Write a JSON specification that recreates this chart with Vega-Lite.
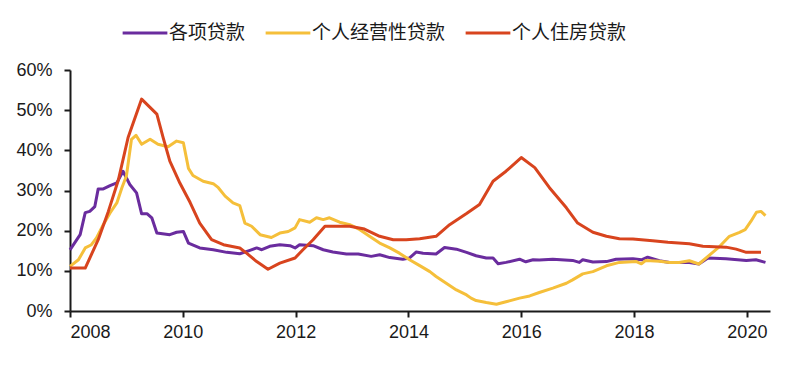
{
  "$schema": "https://vega.github.io/schema/vega-lite/v6.json",
  "autosize": {"type": "none"},
  "width": 700,
  "height": 241,
  "padding": {"left": 70, "top": 70, "right": 30, "bottom": 60},
  "background": "white",
  "config": {"view": {"stroke": null}, "font": "Liberation Sans"},
  "data": {"values": [
    {"s":"各项贷款","t":2008.00,"v":15.2},{"s":"各项贷款","t":2008.18,"v":19.0},{"s":"各项贷款","t":2008.27,"v":24.5},{"s":"各项贷款","t":2008.35,"v":24.8},{"s":"各项贷款","t":2008.44,"v":26.0},{"s":"各项贷款","t":2008.50,"v":30.4},{"s":"各项贷款","t":2008.59,"v":30.4},{"s":"各项贷款","t":2008.71,"v":31.2},{"s":"各项贷款","t":2008.83,"v":31.9},{"s":"各项贷款","t":2008.94,"v":34.8},{"s":"各项贷款","t":2009.06,"v":31.5},{"s":"各项贷款","t":2009.18,"v":29.4},{"s":"各项贷款","t":2009.27,"v":24.2},{"s":"各项贷款","t":2009.37,"v":24.2},{"s":"各项贷款","t":2009.45,"v":23.2},{"s":"各项贷款","t":2009.54,"v":19.4},{"s":"各项贷款","t":2009.77,"v":19.0},{"s":"各项贷款","t":2009.89,"v":19.6},{"s":"各项贷款","t":2010.01,"v":19.8},{"s":"各项贷款","t":2010.10,"v":16.9},{"s":"各项贷款","t":2010.30,"v":15.7},{"s":"各项贷款","t":2010.54,"v":15.25},{"s":"各项贷款","t":2010.78,"v":14.6},{"s":"各项贷款","t":2011.01,"v":14.25},{"s":"各项贷款","t":2011.19,"v":15.1},{"s":"各项贷款","t":2011.31,"v":15.7},{"s":"各项贷款","t":2011.40,"v":15.25},{"s":"各项贷款","t":2011.54,"v":16.1},{"s":"各项贷款","t":2011.72,"v":16.5},{"s":"各项贷款","t":2011.90,"v":16.25},{"s":"各项贷款","t":2011.99,"v":15.7},{"s":"各项贷款","t":2012.07,"v":16.5},{"s":"各项贷款","t":2012.31,"v":16.25},{"s":"各项贷款","t":2012.49,"v":15.25},{"s":"各项贷款","t":2012.66,"v":14.7},{"s":"各项贷款","t":2012.90,"v":14.2},{"s":"各项贷款","t":2013.11,"v":14.2},{"s":"各项贷款","t":2013.34,"v":13.6},{"s":"各项贷款","t":2013.49,"v":14.0},{"s":"各项贷款","t":2013.67,"v":13.3},{"s":"各项贷款","t":2013.90,"v":12.9},{"s":"各项贷款","t":2014.02,"v":13.2},{"s":"各项贷款","t":2014.14,"v":14.7},{"s":"各项贷款","t":2014.26,"v":14.4},{"s":"各项贷款","t":2014.49,"v":14.2},{"s":"各项贷款","t":2014.64,"v":15.8},{"s":"各项贷款","t":2014.85,"v":15.4},{"s":"各项贷款","t":2015.03,"v":14.6},{"s":"各项贷款","t":2015.20,"v":13.75},{"s":"各项贷款","t":2015.38,"v":13.2},{"s":"各项贷款","t":2015.50,"v":13.2},{"s":"各项贷款","t":2015.59,"v":11.75},{"s":"各项贷款","t":2015.73,"v":12.1},{"s":"各项贷款","t":2015.97,"v":12.9},{"s":"各项贷款","t":2016.08,"v":12.25},{"s":"各项贷款","t":2016.21,"v":12.75},{"s":"各项贷款","t":2016.32,"v":12.7},{"s":"各项贷款","t":2016.56,"v":12.9},{"s":"各项贷款","t":2016.91,"v":12.6},{"s":"各项贷款","t":2017.03,"v":12.1},{"s":"各项贷款","t":2017.09,"v":12.75},{"s":"各项贷款","t":2017.27,"v":12.2},{"s":"各项贷款","t":2017.51,"v":12.3},{"s":"各项贷款","t":2017.68,"v":12.9},{"s":"各项贷款","t":2017.98,"v":13.0},{"s":"各项贷款","t":2018.13,"v":12.75},{"s":"各项贷款","t":2018.24,"v":13.4},{"s":"各项贷款","t":2018.45,"v":12.5},{"s":"各项贷款","t":2018.63,"v":12.1},{"s":"各项贷款","t":2018.98,"v":12.1},{"s":"各项贷款","t":2019.15,"v":11.7},{"s":"各项贷款","t":2019.31,"v":13.2},{"s":"各项贷款","t":2019.63,"v":13.0},{"s":"各项贷款","t":2019.99,"v":12.6},{"s":"各项贷款","t":2020.16,"v":12.75},{"s":"各项贷款","t":2020.33,"v":12.1},
    {"s":"个人经营性贷款","t":2008.00,"v":11.1},{"s":"个人经营性贷款","t":2008.15,"v":12.75},{"s":"个人经营性贷款","t":2008.27,"v":15.7},{"s":"个人经营性贷款","t":2008.38,"v":16.5},{"s":"个人经营性贷款","t":2008.47,"v":18.2},{"s":"个人经营性贷款","t":2008.59,"v":21.5},{"s":"个人经营性贷款","t":2008.71,"v":24.4},{"s":"个人经营性贷款","t":2008.83,"v":26.9},{"s":"个人经营性贷款","t":2008.92,"v":30.7},{"s":"个人经营性贷款","t":2009.00,"v":33.6},{"s":"个人经营性贷款","t":2009.09,"v":42.75},{"s":"个人经营性贷款","t":2009.17,"v":43.75},{"s":"个人经营性贷款","t":2009.27,"v":41.5},{"s":"个人经营性贷款","t":2009.42,"v":42.75},{"s":"个人经营性贷款","t":2009.56,"v":41.5},{"s":"个人经营性贷款","t":2009.74,"v":40.9},{"s":"个人经营性贷款","t":2009.89,"v":42.3},{"s":"个人经营性贷款","t":2010.01,"v":41.9},{"s":"个人经营性贷款","t":2010.10,"v":35.5},{"s":"个人经营性贷款","t":2010.18,"v":33.75},{"s":"个人经营性贷款","t":2010.36,"v":32.3},{"s":"个人经营性贷款","t":2010.54,"v":31.7},{"s":"个人经营性贷款","t":2010.63,"v":30.7},{"s":"个人经营性贷款","t":2010.75,"v":28.6},{"s":"个人经营性贷款","t":2010.89,"v":26.9},{"s":"个人经营性贷款","t":2011.01,"v":26.25},{"s":"个人经营性贷款","t":2011.10,"v":21.9},{"s":"个人经营性贷款","t":2011.22,"v":21.1},{"s":"个人经营性贷款","t":2011.37,"v":19.0},{"s":"个人经营性贷款","t":2011.57,"v":18.3},{"s":"个人经营性贷款","t":2011.72,"v":19.4},{"s":"个人经营性贷款","t":2011.87,"v":19.8},{"s":"个人经营性贷款","t":2011.99,"v":20.7},{"s":"个人经营性贷款","t":2012.07,"v":22.75},{"s":"个人经营性贷款","t":2012.25,"v":22.1},{"s":"个人经营性贷款","t":2012.37,"v":23.2},{"s":"个人经营性贷款","t":2012.49,"v":22.75},{"s":"个人经营性贷款","t":2012.60,"v":23.2},{"s":"个人经营性贷款","t":2012.78,"v":22.1},{"s":"个人经营性贷款","t":2012.96,"v":21.5},{"s":"个人经营性贷款","t":2013.14,"v":20.25},{"s":"个人经营性贷款","t":2013.31,"v":18.6},{"s":"个人经营性贷款","t":2013.49,"v":16.9},{"s":"个人经营性贷款","t":2013.67,"v":15.7},{"s":"个人经营性贷款","t":2013.84,"v":14.4},{"s":"个人经营性贷款","t":2014.02,"v":12.75},{"s":"个人经营性贷款","t":2014.20,"v":11.3},{"s":"个人经营性贷款","t":2014.38,"v":9.8},{"s":"个人经营性贷款","t":2014.49,"v":8.6},{"s":"个人经营性贷款","t":2014.67,"v":6.9},{"s":"个人经营性贷款","t":2014.85,"v":5.25},{"s":"个人经营性贷款","t":2015.03,"v":4.0},{"s":"个人经营性贷款","t":2015.11,"v":3.2},{"s":"个人经营性贷款","t":2015.20,"v":2.6},{"s":"个人经营性贷款","t":2015.38,"v":2.1},{"s":"个人经营性贷款","t":2015.56,"v":1.7},{"s":"个人经营性贷款","t":2015.73,"v":2.3},{"s":"个人经营性贷款","t":2015.97,"v":3.2},{"s":"个人经营性贷款","t":2016.15,"v":3.75},{"s":"个人经营性贷款","t":2016.32,"v":4.6},{"s":"个人经营性贷款","t":2016.56,"v":5.7},{"s":"个人经营性贷款","t":2016.80,"v":6.9},{"s":"个人经营性贷款","t":2016.91,"v":7.75},{"s":"个人经营性贷款","t":2017.09,"v":9.25},{"s":"个人经营性贷款","t":2017.27,"v":9.8},{"s":"个人经营性贷款","t":2017.51,"v":11.25},{"s":"个人经营性贷款","t":2017.74,"v":12.1},{"s":"个人经营性贷款","t":2018.04,"v":12.3},{"s":"个人经营性贷款","t":2018.13,"v":11.75},{"s":"个人经营性贷款","t":2018.21,"v":12.6},{"s":"个人经营性贷款","t":2018.45,"v":12.4},{"s":"个人经营性贷款","t":2018.63,"v":12.1},{"s":"个人经营性贷款","t":2018.80,"v":12.1},{"s":"个人经营性贷款","t":2018.98,"v":12.5},{"s":"个人经营性贷款","t":2019.15,"v":11.7},{"s":"个人经营性贷款","t":2019.31,"v":13.6},{"s":"个人经营性贷款","t":2019.52,"v":16.1},{"s":"个人经营性贷款","t":2019.69,"v":18.6},{"s":"个人经营性贷款","t":2019.87,"v":19.6},{"s":"个人经营性贷款","t":2019.97,"v":20.25},{"s":"个人经营性贷款","t":2020.07,"v":22.3},{"s":"个人经营性贷款","t":2020.17,"v":24.6},{"s":"个人经营性贷款","t":2020.25,"v":24.8},{"s":"个人经营性贷款","t":2020.33,"v":23.75},
    {"s":"个人住房贷款","t":2008.00,"v":10.7},{"s":"个人住房贷款","t":2008.27,"v":10.7},{"s":"个人住房贷款","t":2008.50,"v":17.75},{"s":"个人住房贷款","t":2008.68,"v":24.8},{"s":"个人住房贷款","t":2008.86,"v":32.75},{"s":"个人住房贷款","t":2009.03,"v":43.2},{"s":"个人住房贷款","t":2009.27,"v":52.75},{"s":"个人住房贷款","t":2009.54,"v":49.0},{"s":"个人住房贷款","t":2009.65,"v":43.2},{"s":"个人住房贷款","t":2009.77,"v":37.3},{"s":"个人住房贷款","t":2009.95,"v":31.8},{"s":"个人住房贷款","t":2010.13,"v":27.0},{"s":"个人住房贷款","t":2010.30,"v":21.9},{"s":"个人住房贷款","t":2010.51,"v":17.75},{"s":"个人住房贷款","t":2010.72,"v":16.5},{"s":"个人住房贷款","t":2011.01,"v":15.7},{"s":"个人住房贷款","t":2011.13,"v":14.4},{"s":"个人住房贷款","t":2011.31,"v":12.3},{"s":"个人住房贷款","t":2011.51,"v":10.4},{"s":"个人住房贷款","t":2011.72,"v":11.9},{"s":"个人住房贷款","t":2011.99,"v":13.2},{"s":"个人住房贷款","t":2012.13,"v":15.25},{"s":"个人住房贷款","t":2012.31,"v":17.75},{"s":"个人住房贷款","t":2012.52,"v":21.1},{"s":"个人住房贷款","t":2012.96,"v":21.1},{"s":"个人住房贷款","t":2013.22,"v":20.4},{"s":"个人住房贷款","t":2013.49,"v":18.6},{"s":"个人住房贷款","t":2013.73,"v":17.75},{"s":"个人住房贷款","t":2013.96,"v":17.75},{"s":"个人住房贷款","t":2014.20,"v":18.0},{"s":"个人住房贷款","t":2014.49,"v":18.6},{"s":"个人住房贷款","t":2014.73,"v":21.5},{"s":"个人住房贷款","t":2015.03,"v":24.25},{"s":"个人住房贷款","t":2015.26,"v":26.5},{"s":"个人住房贷款","t":2015.50,"v":32.3},{"s":"个人住房贷款","t":2015.73,"v":34.8},{"s":"个人住房贷款","t":2016.00,"v":38.2},{"s":"个人住房贷款","t":2016.24,"v":35.7},{"s":"个人住房贷款","t":2016.50,"v":30.7},{"s":"个人住房贷款","t":2016.80,"v":25.7},{"s":"个人住房贷款","t":2017.00,"v":21.9},{"s":"个人住房贷款","t":2017.27,"v":19.6},{"s":"个人住房贷款","t":2017.51,"v":18.6},{"s":"个人住房贷款","t":2017.74,"v":18.0},{"s":"个人住房贷款","t":2017.98,"v":17.9},{"s":"个人住房贷款","t":2018.33,"v":17.5},{"s":"个人住房贷款","t":2018.60,"v":17.1},{"s":"个人住房贷款","t":2018.98,"v":16.75},{"s":"个人住房贷款","t":2019.22,"v":16.1},{"s":"个人住房贷款","t":2019.63,"v":15.9},{"s":"个人住房贷款","t":2019.81,"v":15.4},{"s":"个人住房贷款","t":2019.99,"v":14.6},{"s":"个人住房贷款","t":2020.25,"v":14.6}
  ]},
  "mark": {"type": "line", "strokeWidth": 3, "strokeJoin": "round"},
  "encoding": {
    "x": {"field": "t", "type": "quantitative",
      "scale": {"domain": [2008, 2020.41], "nice": false, "zero": false},
      "axis": {"title": null, "values": [2008,2010,2012,2014,2016,2018,2020], "format": "d", "grid": false,
        "domainColor": "#1a1a1a", "domainWidth": 2, "tickColor": "#1a1a1a", "tickWidth": 2, "tickSize": 6,
        "labelFontSize": 18, "labelColor": "#1a1a1a", "labelPadding": 6, "labelFont": "Liberation Sans"}},
    "y": {"field": "v", "type": "quantitative",
      "scale": {"domain": [0, 60], "nice": false},
      "axis": {"title": null, "values": [0,10,20,30,40,50,60], "labelExpr": "datum.value + '%'", "grid": false,
        "domainColor": "#1a1a1a", "domainWidth": 2, "tickColor": "#1a1a1a", "tickWidth": 2, "tickSize": 6,
        "labelFontSize": 18, "labelColor": "#1a1a1a", "labelPadding": 12, "labelFont": "Liberation Sans"}},
    "color": {"field": "s", "type": "nominal",
      "scale": {"domain": ["各项贷款","个人经营性贷款","个人住房贷款"], "range": ["#6A2C9E","#F5BF3A","#D8441E"]},
      "legend": {"title": null, "orient": "none", "legendX": 51, "legendY": -61, "direction": "horizontal",
        "symbolType": "stroke", "symbolSize": 2000, "symbolStrokeWidth": 3, "labelFontSize": 19, "labelFont": "Noto Sans CJK SC",
        "labelColor": "#1a1a1a", "labelOffset": 0, "columnPadding": 13}}
  }
}
